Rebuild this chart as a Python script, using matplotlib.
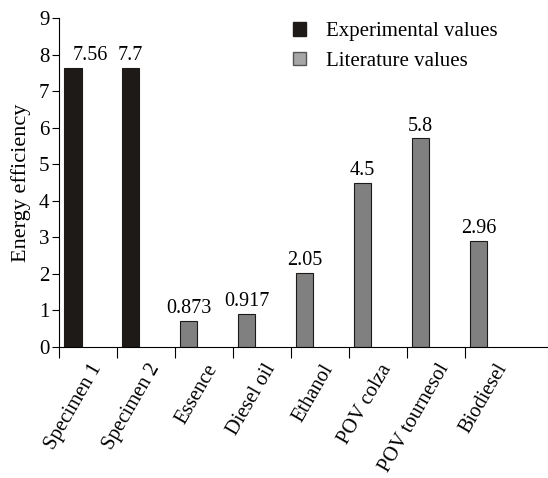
import numpy as np
import matplotlib
matplotlib.use("Agg")
import matplotlib.pyplot as plt
from matplotlib.patches import Patch

categories = ["Specimen 1", "Specimen 2", "Essence", "Diesel oil", "Ethanol",
              "POV colza", "POV tournesol", "Biodiesel"]
heights = [7.64, 7.64, 0.71, 0.90, 2.03, 4.49, 5.71, 2.89]
value_labels = ["7.56", "7.7", "0.873", "0.917", "2.05", "4.5", "5.8", "2.96"]
groups = ["exp", "exp", "lit", "lit", "lit", "lit", "lit", "lit"]

plt.rcParams["font.family"] = ["Liberation Serif", "DejaVu Serif"]
plt.rcParams["font.size"] = 14

fig = plt.figure(figsize=(5.48, 4.78), dpi=100)
ax = fig.add_axes([0.108, 0.2747, 0.892, 0.687])

colors = {"exp": "#1e1a18", "lit": "#808080"}
x = np.arange(len(categories))
bar_x = x + 0.085
bars = ax.bar(bar_x, heights, width=0.3, align="edge",
              color=[colors[g] for g in groups], edgecolor="#1e1a18", linewidth=0.8)

for i, (b, lab) in enumerate(zip(bars, value_labels)):
    dx = 18 if i == 0 else 0
    ax.annotate(lab, (b.get_x() + b.get_width() / 2, b.get_height()),
                xytext=(dx * 0.72, 2), textcoords="offset points",
                ha="center", va="bottom", fontsize=14.5)

ax.set_xlim(0, 8.43)
ax.set_ylim(0, 9)
ax.set_yticks(range(10))
ax.set_xticks(x)
ax.set_xticklabels([])
ax.tick_params(axis="x", direction="out", length=8, width=0.8)
ax.tick_params(axis="y", direction="out", length=5, width=0.8, pad=2, labelsize=15)
ax.set_xticks(x + 0.52, minor=True)
ax.set_xticklabels(categories, minor=True, rotation=60, ha="right", va="top",
                   rotation_mode="anchor", fontsize=14.8)
ax.tick_params(axis="x", which="minor", length=0, pad=10)

for s in ["top", "right"]:
    ax.spines[s].set_visible(False)
ax.spines["left"].set_linewidth(0.8)
ax.spines["bottom"].set_linewidth(0.8)

ax.set_ylabel("Energy efficiency", labelpad=6, fontsize=16)

handles = [Patch(facecolor="#1e1a18", edgecolor="#1e1a18", label="Experimental values"),
           Patch(facecolor="#a6a6a6", edgecolor="#555555", label="Literature values")]
ax.legend(handles=handles, loc="upper left", bbox_to_anchor=(0.44, 1.045), frameon=False,
          fontsize=15, handlelength=0.6, handleheight=0.6, handletextpad=1.0,
          labelspacing=0.5)

fig.savefig("out.png", dpi=100)
